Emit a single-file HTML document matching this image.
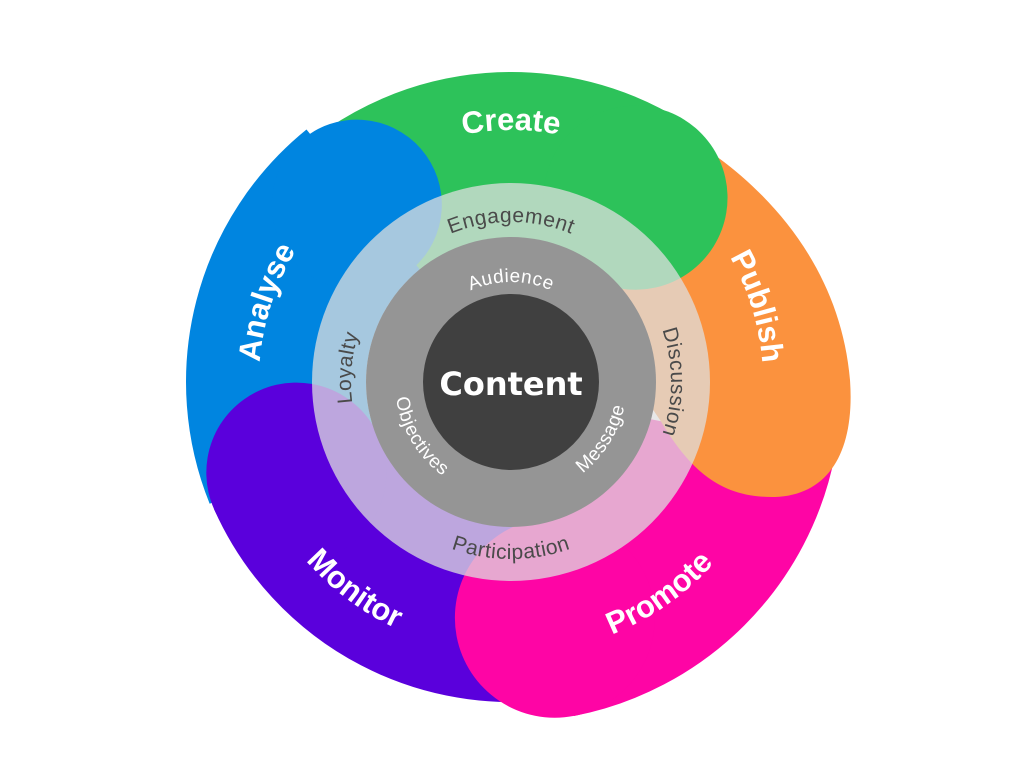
<!DOCTYPE html>
<html><head><meta charset="utf-8"><style>
html,body{margin:0;padding:0;background:#fff;}
svg{display:block}
.pl{font-family:"Liberation Sans",sans-serif;font-weight:bold;font-size:31px;fill:#fff;}
.rl{font-family:"Liberation Sans",sans-serif;font-size:21px;fill:#4a4a4a;letter-spacing:0.5px;}
.il{font-family:"Liberation Sans",sans-serif;font-size:19px;fill:#fff;letter-spacing:0.5px;}
</style></head><body>
<svg width="1024" height="768" viewBox="0 0 1024 768" xmlns="http://www.w3.org/2000/svg">
<defs>
<path id="cw160" d="M -160 0 A 160 160 0 0 1 160 0"/>
<path id="ccw177" d="M -177 0 A 177 177 0 0 0 177 0"/>
<path id="cw100" d="M -100 0 A 100 100 0 0 1 100 0"/>
<path id="ccw116" d="M -116 0 A 116 116 0 0 0 116 0"/>
<path id="cw252" d="M -252 0 A 252 252 0 0 1 252 0"/>
<path id="ccw272" d="M -272 0 A 272 272 0 0 0 272 0"/>
</defs>
<g transform="translate(511,382)">
 <g fill="none" stroke-width="180" stroke-linecap="butt">
  <path d="M 235 0 A 235 235 0 0 1 68.7 224.7" stroke="#2dc25a" transform="translate(0,15) rotate(229)"/>
  <path d="M 230 0 A 230 230 0 0 1 86.2 213.3" stroke="#fe05a5" stroke-width="200" transform="translate(0,10) rotate(11)"/>
  <path d="M 235 0 A 235 235 0 0 1 52.9 229.0" stroke="#5a00dc" transform="translate(0,-5) rotate(79)"/>
  <path d="M 235 0 A 235 235 0 0 1 68.7 224.7" stroke="#0085e0" transform="rotate(158)"/>
 </g>
 <path d="M 157,-256 C 249,-207 329,-120 339,-2 C 344,68 319,113 264,115 C 209,116 179,88 149,38 L 130,10 L 49,-132 Z" fill="#fb923e"/>
 <circle cx="235" cy="0" r="92" fill="#2dc25a" transform="translate(0,15) rotate(302)"/>
 <circle cx="230" cy="0" r="100" fill="#fe05a5" transform="translate(0,10) rotate(79)"/>
 <circle cx="235" cy="0" r="90" fill="#5a00dc" transform="translate(0,-5) rotate(156)"/>
 <circle cx="235" cy="0" r="85" fill="#0085e0" transform="rotate(229)"/>

 <circle r="199" fill="#dfdfdf" fill-opacity="0.745"/>
 <circle r="145" fill="#959595"/>
 <circle r="88" fill="#404040"/>
 <text x="0" y="13" text-anchor="middle" font-family="'DejaVu Sans','Liberation Sans',sans-serif" font-weight="bold" font-size="32" fill="#fff">Content</text>

 <text class="pl" text-anchor="middle" transform="rotate(0)"><textPath href="#cw252" startOffset="50%">Create</textPath></text>
 <text class="pl" text-anchor="middle" transform="rotate(73)"><textPath href="#cw252" startOffset="50%">Publish</textPath></text>
 <text class="pl" text-anchor="middle" transform="rotate(288)"><textPath href="#cw252" startOffset="50%">Analyse</textPath></text>
 <text class="pl" text-anchor="middle" transform="rotate(-35)"><textPath href="#ccw272" startOffset="50%">Promote</textPath></text>
 <text class="pl" text-anchor="middle" transform="rotate(37)"><textPath href="#ccw272" startOffset="50%">Monitor</textPath></text>

 <text class="rl" text-anchor="middle" transform="rotate(0)"><textPath href="#cw160" startOffset="50%">Engagement</textPath></text>
 <text class="rl" text-anchor="middle" transform="rotate(90)"><textPath href="#cw160" startOffset="50%">Discussion</textPath></text>
 <text class="rl" text-anchor="middle" transform="rotate(275)"><textPath href="#cw160" startOffset="50%">Loyalty</textPath></text>
 <text class="rl" text-anchor="middle" transform="rotate(0)"><textPath href="#ccw177" startOffset="50%">Participation</textPath></text>

 <text class="il" text-anchor="middle" transform="rotate(0)"><textPath href="#cw100" startOffset="50%">Audience</textPath></text>
 <text class="il" text-anchor="middle" transform="rotate(59)"><textPath href="#ccw116" startOffset="50%">Objectives</textPath></text>
 <text class="il" text-anchor="middle" transform="rotate(-58)"><textPath href="#ccw116" startOffset="50%">Message</textPath></text>
</g>
</svg>
</body></html>
